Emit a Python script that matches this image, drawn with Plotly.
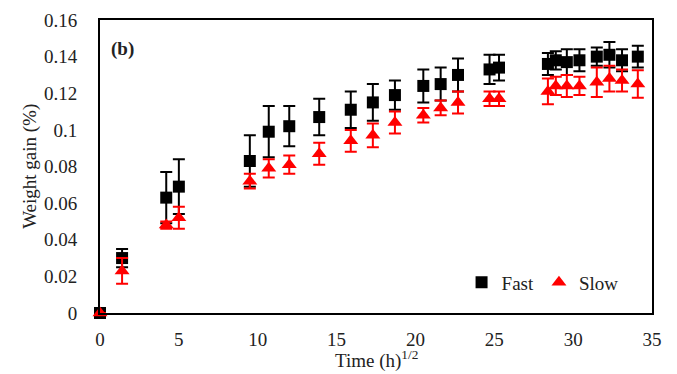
import plotly.graph_objects as go

time_fast = [0, 1.4, 4.2, 5.0, 9.5, 10.7, 12.0, 13.9, 15.9, 17.3, 18.7, 20.5, 21.6, 22.7, 24.7, 25.3, 28.4, 28.9, 29.6, 30.4, 31.5, 32.3, 33.1, 34.1]
fast = [0, 0.030, 0.063, 0.069, 0.083, 0.099, 0.102, 0.107, 0.111, 0.115, 0.119, 0.124, 0.125, 0.130, 0.133, 0.134, 0.136, 0.138, 0.137, 0.138, 0.140, 0.141, 0.138, 0.140]
fast_err = [0, 0.005, 0.014, 0.015, 0.014, 0.014, 0.011, 0.010, 0.010, 0.010, 0.008, 0.009, 0.009, 0.009, 0.008, 0.007, 0.006, 0.005, 0.007, 0.006, 0.005, 0.007, 0.006, 0.006]
time_slow = time_fast
slow = [0, 0.023, 0.048, 0.052, 0.072, 0.079, 0.081, 0.087, 0.094, 0.097, 0.104, 0.108, 0.112, 0.115, 0.117, 0.117, 0.121, 0.124, 0.124, 0.124, 0.126, 0.128, 0.127, 0.125]
slow_err = [0, 0.007, 0.002, 0.006, 0.004, 0.005, 0.005, 0.006, 0.006, 0.0065, 0.006, 0.004, 0.004, 0.006, 0.004, 0.004, 0.007, 0.005, 0.006, 0.005, 0.008, 0.007, 0.006, 0.0075]

x_ticks = [0, 5, 10, 15, 20, 25, 30, 35]
y_ticks = [0, 0.02, 0.04, 0.06, 0.08, 0.1, 0.12, 0.14, 0.16]
y_tick_labels = ["0", "0.02", "0.04", "0.06", "0.08", "0.1", "0.12", "0.14", "0.16"]

FONT = "Liberation Serif, serif"
TXT = "#222222"

fig = go.Figure()
fig.add_trace(go.Scatter(
    x=time_fast, y=fast, mode="markers", name="Fast", cliponaxis=False,
    marker=dict(symbol="square", size=12, color="black"),
    error_y=dict(type="data", array=fast_err, visible=True, color="black", thickness=2, width=6),
))
fig.add_trace(go.Scatter(
    x=time_slow, y=slow, mode="markers", name="Slow", cliponaxis=False,
    marker=dict(symbol="triangle-up", size=13, color="#ff0000"),
    error_y=dict(type="data", array=slow_err, visible=True, color="#ff0000", thickness=2, width=6),
))

fig.update_layout(
    width=677, height=374,
    margin=dict(l=100, r=25, t=20, b=61, autoexpand=False),
    paper_bgcolor="white", plot_bgcolor="white",
    font=dict(family=FONT, size=18, color=TXT),
    showlegend=True,
    legend=dict(orientation="h", x=0.655, y=0.04, xanchor="left", yanchor="bottom",
                font=dict(family=FONT, size=19, color=TXT), bgcolor="rgba(0,0,0,0)",
                itemwidth=30, tracegroupgap=0),
    annotations=[
        dict(text="<b>(b)</b>", x=0.016, y=0.9, xref="paper", yref="paper",
             xanchor="left", yanchor="middle", showarrow=False,
             font=dict(family=FONT, size=19, color=TXT)),
        dict(text="Time (h)<sup>1/2</sup>", x=0.5, y=-0.16, xref="paper", yref="paper",
             xanchor="center", yanchor="middle", showarrow=False,
             font=dict(family=FONT, size=19, color=TXT)),
        dict(text="Weight gain (%)", x=-0.128, y=0.5, xref="paper", yref="paper",
             xanchor="center", yanchor="middle", showarrow=False, textangle=-90,
             font=dict(family=FONT, size=19, color=TXT)),
    ],
)
fig.update_xaxes(
    range=[0, 35], tickvals=x_ticks, ticks="", showgrid=False, zeroline=False,
    showline=True, linecolor="black", linewidth=2, mirror=True, automargin=False,
    ticklabelstandoff=8,
    tickfont=dict(family=FONT, size=19, color=TXT),
)
fig.update_yaxes(
    range=[0, 0.16], tickvals=y_ticks, ticktext=y_tick_labels, ticks="", showgrid=False, zeroline=False,
    showline=True, linecolor="black", linewidth=2, mirror=True, automargin=False,
    ticklabelstandoff=17,
    tickfont=dict(family=FONT, size=19, color=TXT),
)

fig.write_html("out.html", config={"displayModeBar": False},
               post_script="document.body.style.margin='0';document.body.style.padding='0';")
